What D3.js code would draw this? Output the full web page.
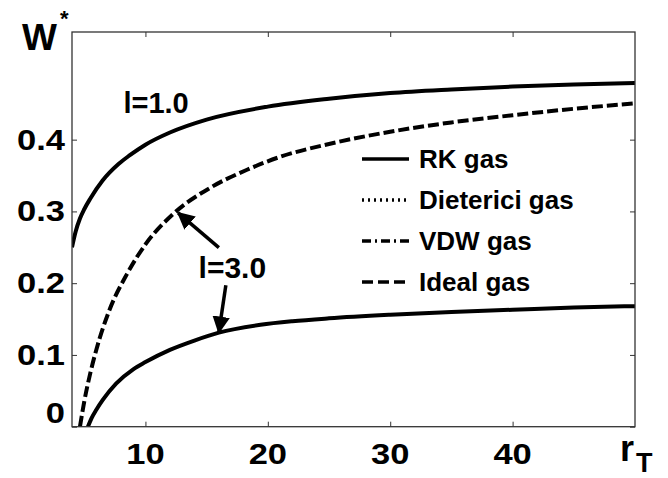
<!DOCTYPE html>
<html>
<head>
<meta charset="utf-8">
<script src="https://cdn.jsdelivr.net/npm/d3@7"></script>
<style>
  body { margin: 0; background: #fff; }
  text { font-family: "Liberation Sans", Arial, sans-serif; font-weight: bold; fill: #000; }
</style>
</head>
<body>
<svg width="668" height="478"></svg>
<script>
// l = 1.0, RK gas (all gases overlap here)
var rk1X = [4, 4.3, 4.65, 5, 5.5, 6.5, 7.8, 8.7, 10, 12, 15, 20, 25, 30, 35, 40, 45, 50];
var rk1Y = [0.25, 0.272, 0.29, 0.303, 0.318, 0.343, 0.366, 0.378, 0.393, 0.41, 0.428, 0.446, 0.457, 0.465, 0.47, 0.474, 0.477, 0.479];

// l = 3.0, ideal gas (dashed)
var ideal3X = [4.65, 5, 5.5, 6, 7, 8.5, 10, 12.3, 15.3, 18.3, 21, 25, 30, 35, 40, 45, 50];
var ideal3Y = [0, 0.035, 0.075, 0.108, 0.16, 0.213, 0.254, 0.297, 0.333, 0.358, 0.376, 0.394, 0.411, 0.424, 0.434, 0.443, 0.4505];

// l = 3.0, RK gas
var rk3X = [5.3, 5.6, 6, 6.5, 7.6, 9, 10, 12, 14, 16, 19.4, 22, 25, 30, 35, 40, 45, 50];
var rk3Y = [0, 0.012, 0.024, 0.037, 0.06, 0.08, 0.09, 0.107, 0.12, 0.131, 0.142, 0.147, 0.151, 0.156, 0.16, 0.163, 0.166, 0.168];

var xTicks = [10, 20, 30, 40];
var yTicks = [0, 0.1, 0.2, 0.3, 0.4];
var legendNames = ["RK gas", "Dieterici gas", "VDW gas", "Ideal gas"];
var legendDash = ["none", "2,4", "9,4,2,4", "11,5"];

draw();

function draw() {
    var svg = d3.select("svg"),
        pLeft = 72, pRight = 635, pTop = 32, pBottom = 426.7;

    var x = d3.scaleLinear().domain([4, 50]).range([pLeft, pRight]);
    var y = d3.scaleLinear().domain([0, 0.55]).range([pBottom, pTop]);

    svg.append("clipPath").attr("id", "clip")
        .append("rect")
        .attr("x", pLeft).attr("y", pTop)
        .attr("width", pRight - pLeft).attr("height", pBottom - pTop);

    function zip(xs, ys) {
        return xs.map(function(v, i) { return {x: v, y: ys[i]}; });
    }

    var line = d3.line()
        .curve(d3.curveMonotoneX)
        .x(function(d) { return x(d.x); })
        .y(function(d) { return y(d.y); });

    var curves = svg.append("g").attr("clip-path", "url(#clip)");

    curves.append("path")
        .datum(zip(rk1X, rk1Y))
        .attr("fill", "none").attr("stroke", "#000").attr("stroke-width", 4)
        .attr("d", line);

    curves.append("path")
        .datum(zip(ideal3X, ideal3Y))
        .attr("fill", "none").attr("stroke", "#000").attr("stroke-width", 4)
        .attr("stroke-dasharray", "11,4")
        .attr("d", line);

    curves.append("path")
        .datum(zip(rk3X, rk3Y))
        .attr("fill", "none").attr("stroke", "#000").attr("stroke-width", 4)
        .attr("d", line);

    // frame + inner ticks
    svg.append("rect")
        .attr("x", pLeft).attr("y", pTop)
        .attr("width", pRight - pLeft).attr("height", pBottom - pTop)
        .attr("fill", "none").attr("stroke", "#333").attr("stroke-width", 1.3);

    function tidy(g) {
        g.select(".domain").remove();
        g.selectAll("line").attr("stroke", "#333");
    }

    svg.append("g").attr("transform", "translate(0," + pBottom + ")")
        .call(d3.axisBottom(x).tickValues(xTicks).tickSize(-5).tickFormat("")).call(tidy);
    svg.append("g").attr("transform", "translate(0," + pTop + ")")
        .call(d3.axisTop(x).tickValues(xTicks).tickSize(-5).tickFormat("")).call(tidy);
    svg.append("g").attr("transform", "translate(" + pLeft + ",0)")
        .call(d3.axisLeft(y).tickValues(yTicks).tickSize(-5).tickFormat("")).call(tidy);
    svg.append("g").attr("transform", "translate(" + pRight + ",0)")
        .call(d3.axisRight(y).tickValues(yTicks).tickSize(-5).tickFormat("")).call(tidy);

    // tick labels
    svg.append("g").selectAll("g")
        .data(yTicks)
        .join("g")
        .attr("transform", function(d) { return "translate(65," + (y(d) + (d === 0 ? -4 : 10)) + ")"; })
        .append("text")
        .attr("text-anchor", "end")
        .attr("transform", "scale(1.15,1)")
        .style("font-size", "30px")
        .text(function(d) { return d === 0 ? "0" : d3.format(".1f")(d); });

    svg.append("g").selectAll("g")
        .data(xTicks)
        .join("g")
        .attr("transform", function(d) { return "translate(" + x(d) + ",464)"; })
        .append("text")
        .attr("text-anchor", "middle")
        .attr("transform", "scale(1.15,1)")
        .style("font-size", "30px")
        .text(function(d) { return d; });

    // axis titles
    var wl = svg.append("text").attr("x", 22).attr("y", 50).style("font-size", "37px");
    wl.append("tspan").text("W");
    wl.append("tspan").attr("dx", 3).attr("dy", -24).style("font-size", "22px").text("*");

    var rl = svg.append("text").attr("x", 620).attr("y", 461).style("font-size", "36px");
    rl.append("tspan").text("r");
    rl.append("tspan").attr("dx", 2).attr("dy", 11).style("font-size", "27px").text("T");

    // annotations
    svg.append("text").attr("x", x(8.2)).attr("y", y(0.437)).style("font-size", "29px").text("l=1.0");
    svg.append("text").attr("x", x(17.1)).attr("y", y(0.207)).attr("text-anchor", "middle")
        .style("font-size", "30px").text("l=3.0");

    svg.append("defs").append("marker")
        .attr("id", "head").attr("viewBox", "0 0 10 10")
        .attr("refX", 9).attr("refY", 5)
        .attr("markerWidth", 5).attr("markerHeight", 5)
        .attr("markerUnits", "strokeWidth")
        .attr("orient", "auto")
        .append("path").attr("d", "M0,0L10,5L0,10z").attr("fill", "#000");

    var arrows = [
        {x0: 16.0, y0: 0.2496, x1: 12.67, y1: 0.298},
        {x0: 16.57, y0: 0.197, x1: 16.0, y1: 0.1315}
    ];
    svg.append("g").selectAll("line")
        .data(arrows)
        .join("line")
        .attr("x1", function(d) { return x(d.x0); })
        .attr("y1", function(d) { return y(d.y0); })
        .attr("x2", function(d) { return x(d.x1); })
        .attr("y2", function(d) { return y(d.y1); })
        .attr("stroke", "#000").attr("stroke-width", 3.5)
        .attr("marker-end", "url(#head)");

    // legend
    var legend = svg.append("g").selectAll("g")
        .data(legendNames)
        .join("g")
        .attr("transform", function(d, i) { return "translate(362," + (159 + i * 41) + ")"; });

    legend.append("line")
        .attr("x1", 0).attr("x2", 47).attr("y1", 0).attr("y2", 0)
        .attr("stroke", "#000").attr("stroke-width", 3.5)
        .attr("stroke-dasharray", function(d, i) { return legendDash[i]; });

    legend.append("text")
        .attr("x", 57).attr("y", 9)
        .style("font-size", "26px")
        .text(function(d) { return d; });
}
</script>
</body>
</html>
